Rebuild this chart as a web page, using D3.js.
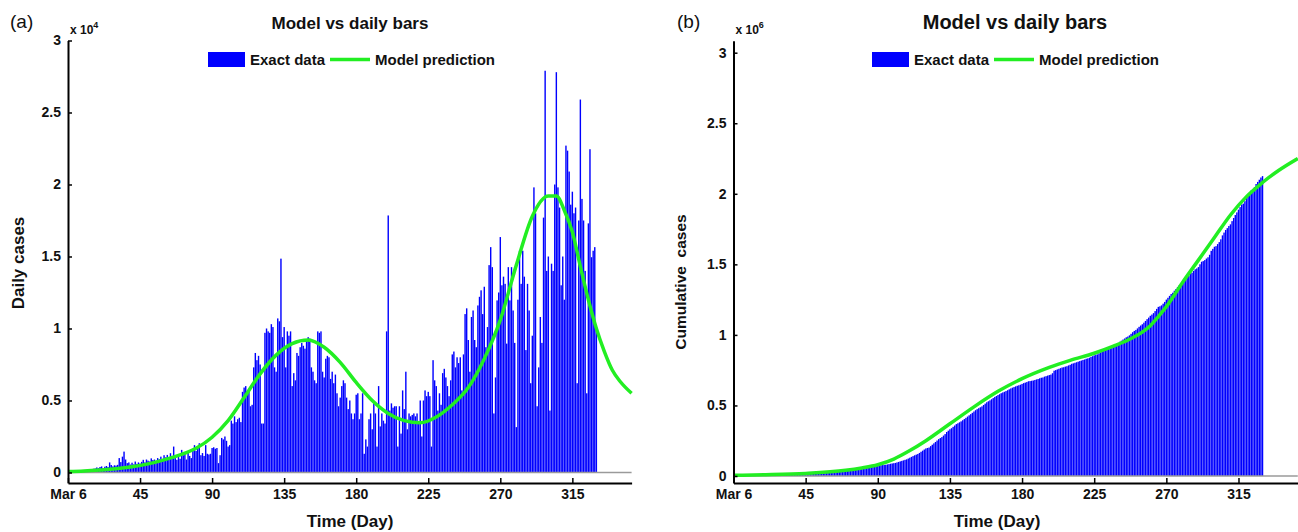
<!DOCTYPE html>
<html>
<head>
<meta charset="utf-8">
<script src="https://cdn.jsdelivr.net/npm/d3@7"></script>
<style>
  html, body { margin: 0; padding: 0; background: #fff; }
  svg { display: block; font-family: "Liberation Sans", Arial, sans-serif; }
</style>
</head>
<body>
<svg id="fig" width="1298" height="532"></svg>
<script>
// Daily reported cases, one value per day starting Mar 6 (day 0)
const dailyCases = [
  0, 0, 20, 30, 40, 50, 60, 80, 100, 120,
  140, 160, 180, 200, 220, 240, 260, 280, 350, 300,
  380, 420, 300, 400, 450, 380, 700, 520, 420, 500,
  480, 530, 1000, 720, 1100, 1450, 900, 650, 700, 550,
  680, 560, 760, 600, 700, 620, 740, 880, 700, 900,
  820, 760, 980, 860, 900, 780, 1000, 920, 1100, 880,
  1200, 1050, 1220, 950, 1340, 1150, 1800, 1000, 880, 1100,
  950, 1570, 1200, 1300, 900, 1400, 1150, 1000, 1600, 1900,
  1500, 1750, 2030, 1200, 1350, 1150, 1900, 1300, 1250, 1300,
  1700, 1750, 1650, 1700, 650, 1200, 2400, 2300, 2500, 2200,
  1800, 1900, 3600, 3400, 3900, 3500, 3700, 3800, 3500, 5600,
  5900, 6000, 5500, 5800, 4600, 4700, 7300, 8300, 7800, 8100,
  7500, 3400, 3400, 9700, 10000, 9800, 9700, 10300, 10100, 7300,
  7000, 10700, 10500, 14850, 9400, 10100, 7300, 9800, 9500, 9800,
  6000, 6900, 6400, 8300, 8100, 8700, 9000, 8800, 8600, 9200,
  9400, 9300, 7300, 7000, 6400, 6200, 9800, 9700, 9800, 7000,
  6600, 7900, 8100, 8000, 6500, 7000, 6200, 6800, 5500, 4600,
  5200, 6000, 6400, 6200, 5200, 4400, 5000, 4100, 3700, 4100,
  5400, 5500, 3700, 4100, 5500, 1300, 2300, 1800, 3700, 4100,
  3000, 4800, 4100, 1800, 6000, 3200, 4100, 3600, 3400, 9800,
  17850, 4300, 4800, 4500, 4600, 4600, 1800, 4600, 2700, 5700,
  4400, 7000, 3000, 4100, 3900, 4000, 4100, 3900, 4100, 3500,
  5000, 2500, 5000, 5700, 5300, 5600, 5300, 1800, 7800, 6400,
  6000, 4300, 5500, 4700, 6900, 7200, 6600, 6000, 5300, 6400,
  8200, 8400, 7300, 8000, 7600, 8000, 5700, 8200, 11000, 11400,
  9200, 7000, 10800, 11250, 9200, 8700, 11600, 12200, 12650, 11000,
  12900, 8700, 10100, 14400, 15650, 14260, 4100, 6600, 11950, 12500,
  16350, 13000, 13600, 13100, 8950, 14260, 11950, 14260, 11250, 9000,
  3150, 12000, 15400, 13100, 15400, 13600, 8500, 13100, 11250, 6200,
  9500, 19800, 18000, 4600, 7300, 10800, 9000, 17700, 27900, 14000,
  15000, 4300, 14500, 14000, 20000, 27800, 19800, 18400, 13000, 15000,
  12000, 22700, 22350, 20900, 18600, 19500, 18000, 18400, 6200, 17500,
  25900, 19000, 17500, 14000, 5500, 17300, 22450, 14950, 15400, 15650, 10100
];

// Fitted model: daily new cases
const modelDailyDays = [0, 10, 20, 30, 40, 50, 60, 70, 80, 90, 100, 110, 120, 130, 140, 150, 160, 170, 180, 190,
  200, 210, 220, 230, 240, 250, 260, 270, 280, 290, 300, 305, 310, 315, 320, 325, 330, 335, 340, 345, 352];
const modelDailyValues = [60, 100, 170, 260, 400, 600, 880, 1220, 1680, 2450, 3600, 5200, 6850, 8150, 8950, 9200, 8700, 7650, 6250, 5000,
  4100, 3600, 3450, 3850, 4700, 5900, 7900, 10600, 14400, 17800, 19200, 19200, 18200, 16700, 14300, 12000, 10000, 8400, 7100, 6300, 5500];

// Fitted model: cumulative cases
const modelCumDays = [0, 20, 45, 70, 80, 90, 100, 110, 120, 135, 150, 165, 180, 197, 210, 225, 237, 249,
  255, 260, 265, 270, 280, 290, 300, 310, 320, 330, 340, 352];
const modelCumValues = [5000, 9000, 18000, 40000, 57000, 80000, 120000, 180000, 250000, 370000, 490000, 600000, 690000, 770000,
  820000, 870000, 920000, 980000, 1020000, 1065000, 1130000, 1200000, 1370000, 1530000, 1690000, 1850000, 1980000, 2080000,
  2165000, 2250000];

const xTickValues = [0, 45, 90, 135, 180, 225, 270, 315];
const xTickLabels = ["Mar 6", "45", "90", "135", "180", "225", "270", "315"];
const dailyTicks = [0, 5000, 10000, 15000, 20000, 25000, 30000];
const cumTicks = [0, 500000, 1000000, 1500000, 2000000, 2500000, 3000000];

const cumulativeCases = Array.from(d3.cumsum(dailyCases));

const BLUE = "#0000ff";
const GREEN = "#22ee22";
const svg = d3.select("#fig");

function panel(opts) {
  const g = svg.append("g");
  const x = d3.scaleLinear().domain([0, 352]).range(opts.xRange);
  const y = d3.scaleLinear().domain(opts.yDomain).range(opts.yRange);
  const step = x(1) - x(0);
  const bw = step * 0.88;

  // bars
  g.append("g").selectAll("rect").data(opts.bars).join("rect")
    .attr("x", (d, i) => x(i) - bw / 2)
    .attr("width", bw)
    .attr("y", d => y(d))
    .attr("height", d => y(0) - y(d))
    .attr("fill", BLUE);

  // bar baseline
  g.append("line")
    .attr("x1", x(0)).attr("x2", x(352))
    .attr("y1", y(0)).attr("y2", y(0))
    .attr("stroke", "#9a9a9a").attr("stroke-width", 1.5);

  // model curve
  const line = d3.line().x(d => x(d[0])).y(d => y(d[1])).curve(d3.curveMonotoneX);
  g.append("path")
    .datum(d3.zip(opts.modelDays, opts.modelValues))
    .attr("d", line)
    .attr("fill", "none")
    .attr("stroke", GREEN)
    .attr("stroke-width", 3.5);

  // axes
  const yBottom = opts.yRange[0];
  const yAxis = d3.axisLeft(y).tickValues(opts.yTicks)
    .tickFormat(d => d3.format("~g")(d / opts.exp))
    .tickSizeInner(-4).tickSizeOuter(0).tickPadding(7);
  const ya = g.append("g").attr("transform", `translate(${x(0)},0)`).call(yAxis);
  const xAxis = d3.axisBottom(x).tickValues(xTickValues)
    .tickFormat((d, i) => xTickLabels[i])
    .tickSizeInner(-5).tickSizeOuter(0).tickPadding(6);
  const xa = g.append("g").attr("transform", `translate(0,${yBottom})`).call(xAxis);
  [ya, xa].forEach(a => {
    a.select(".domain").attr("stroke", "#000").attr("stroke-width", 2);
    a.selectAll(".tick line").attr("stroke", "#000").attr("stroke-width", 1.5);
    a.selectAll(".tick text").attr("fill", "#111").attr("font-size", 14).attr("font-weight", "bold")
      .attr("font-family", "Liberation Sans, Arial, sans-serif");
  });

  // exponent label
  const ex = g.append("text").attr("x", x(0) + 2).attr("y", opts.expY)
    .attr("font-size", 12).attr("font-weight", "bold").attr("fill", "#111");
  ex.append("tspan").text("x 10");
  ex.append("tspan").attr("dy", -6).attr("font-size", 9).text(opts.expText);

  // panel letter
  g.append("text").attr("x", opts.letterX).attr("y", 28)
    .attr("font-size", 19).attr("fill", "#111").text(opts.letter);

  // title
  g.append("text").attr("x", opts.titleX).attr("y", 29).attr("text-anchor", "middle")
    .attr("font-size", opts.titleSize).attr("font-weight", "bold").attr("fill", "#111")
    .text("Model vs daily bars");

  // axis labels
  g.append("text").attr("x", opts.xLabelX).attr("y", 527).attr("text-anchor", "middle")
    .attr("font-size", 17).attr("font-weight", "bold").attr("fill", "#111").text("Time (Day)");
  g.append("text")
    .attr("transform", `translate(${opts.yLabelX},${opts.yLabelY}) rotate(-90)`)
    .attr("text-anchor", "middle").attr("font-size", opts.yLabelSize).attr("font-weight", "bold")
    .attr("fill", "#111").attr("xml:space", "preserve").text(opts.yLabel);

  // legend
  const lg = g.append("g").attr("transform", `translate(${opts.legendX},52)`);
  lg.append("rect").attr("x", 0).attr("y", 0).attr("width", 37).attr("height", 15).attr("fill", BLUE);
  lg.append("text").attr("x", 42).attr("y", 13).attr("font-size", 15).attr("font-weight", "bold")
    .attr("fill", "#111").text("Exact data");
  lg.append("line").attr("x1", 122).attr("x2", 162).attr("y1", 7.5).attr("y2", 7.5)
    .attr("stroke", GREEN).attr("stroke-width", 3.5);
  lg.append("text").attr("x", 167).attr("y", 13).attr("font-size", 15).attr("font-weight", "bold")
    .attr("fill", "#111").text("Model prediction");
}

panel({
  xRange: [68, 631.6],
  yDomain: [-730, 30000], yRange: [483, 40.5],
  bars: dailyCases,
  modelDays: modelDailyDays, modelValues: modelDailyValues,
  yTicks: dailyTicks, exp: 1e4, expText: "4", expY: 34,
  letter: "(a)", letterX: 10,
  titleX: 350, titleSize: 17,
  xLabelX: 350,
  yLabel: "Daily cases", yLabelX: 24, yLabelY: 263, yLabelSize: 17,
  legendX: 208
});

panel({
  xRange: [733.5, 1297.8],
  yDomain: [-49600, 3085000], yRange: [483, 40.7],
  bars: cumulativeCases,
  modelDays: modelCumDays, modelValues: modelCumValues,
  yTicks: cumTicks, exp: 1e6, expText: "6", expY: 34,
  letter: "(b)", letterX: 677,
  titleX: 1015, titleSize: 20,
  xLabelX: 997,
  yLabel: "Cumulative  cases", yLabelX: 686, yLabelY: 282, yLabelSize: 15.5,
  legendX: 872
});
</script>
</body>
</html>
